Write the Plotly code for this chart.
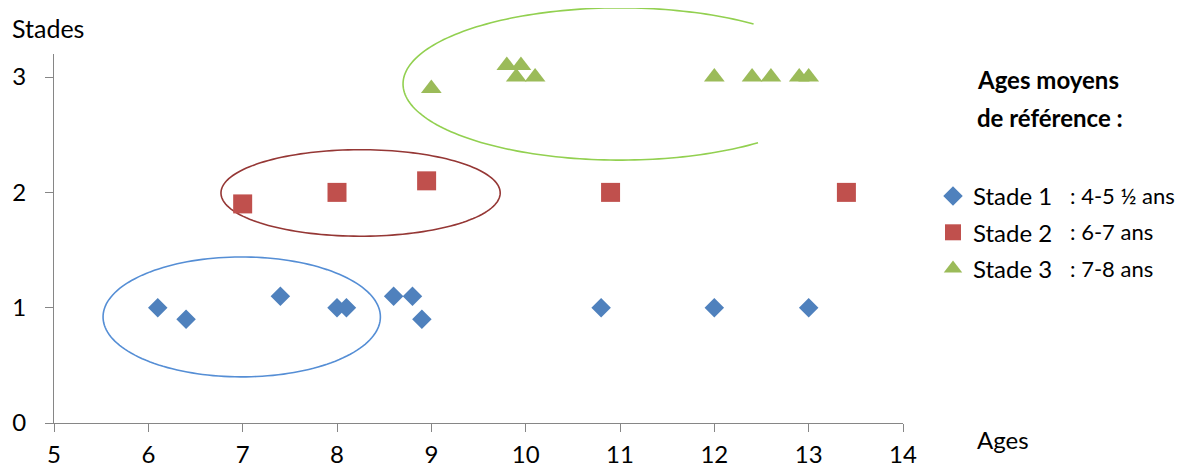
import numpy as np
import plotly.graph_objects as go

# ---- data ----
stade1_x = [6.1, 6.4, 7.4, 8.0, 8.1, 8.6, 8.8, 8.9, 10.8, 12.0, 13.0]
stade1_y = [1.0, 0.9, 1.1, 1.0, 1.0, 1.1, 1.1, 0.9, 1.0, 1.0, 1.0]
stade2_x = [7.0, 8.0, 8.95, 10.9, 13.4]
stade2_y = [1.9, 2.0, 2.1, 2.0, 2.0]
stade3_x = [9.0, 9.8, 9.95, 9.9, 10.1, 12.0, 12.4, 12.6, 12.9, 13.0]
stade3_y = [2.9, 3.1, 3.1, 3.0, 3.0, 3.0, 3.0, 3.0, 3.0, 3.0]
series_names = ["Stade 1", "Stade 2", "Stade 3"]
ref_ages = [": 4-5 ½ ans", ": 6-7 ans", ": 7-8 ans"]
x_ticks = [5, 6, 7, 8, 9, 10, 11, 12, 13, 14]
y_ticks = [0, 1, 2, 3]

X_RANGE = [5, 14]
Y_RANGE = [0, 3.2]
FONT = "Lato"
FS = 24

fig = go.Figure()
fig.add_trace(go.Scatter(x=stade1_x, y=stade1_y, mode="markers", name=series_names[0],
                         legendgroup="g1",
                         marker=dict(symbol="diamond", size=15, color="#4F81BD")))
fig.add_trace(go.Scatter(x=stade2_x, y=stade2_y, mode="markers", name=series_names[1],
                         legendgroup="g2",
                         marker=dict(symbol="square", size=19, color="#C0504D")))
fig.add_trace(go.Scatter(x=stade3_x, y=stade3_y, mode="markers", name=series_names[2],
                         legendgroup="g3",
                         marker=dict(symbol="triangle-up", size=18, color="#9BBB59")))


def to_paper(x, y):
    return ((x - X_RANGE[0]) / (X_RANGE[1] - X_RANGE[0]),
            (y - Y_RANGE[0]) / (Y_RANGE[1] - Y_RANGE[0]))


def ellipse_path(cx, cy, rx, ry, a0, a1, n=160):
    th = np.radians(np.linspace(a0, a1, n))
    px, py = to_paper(cx + rx * np.cos(th), cy + ry * np.sin(th))
    return "M " + " L ".join(f"{a:.5f},{b:.5f}" for a, b in zip(px, py))


# ellipses (annotation shapes, drawn in paper space so they are not clipped)
fig.add_shape(type="path", xref="paper", yref="paper",
              path=ellipse_path(6.99, 0.92, 1.47, 0.52, 0, 360) + " Z",
              line=dict(color="#558ED5", width=1.6), layer="below")
fig.add_shape(type="path", xref="paper", yref="paper",
              path=ellipse_path(8.25, 1.995, 1.48, 0.375, 0, 360) + " Z",
              line=dict(color="#953735", width=1.6), layer="below")
fig.add_shape(type="path", xref="paper", yref="paper",
              path=ellipse_path(11.0, 2.94, 2.30, 0.66, 52, 309.5),
              line=dict(color="#92D050", width=1.6), layer="below")

# page has an 8px body margin: positions below are in reference pixels
W, L = 849, 54
H, B = 369, 423
annots = [
    dict(text="Stades", x=(10 - L) / W, y=(B - 28) / H, xanchor="left", yanchor="middle",
         font=dict(size=25)),
    dict(text="Ages", x=(975 - L) / W, y=(B - 440) / H, xanchor="left", yanchor="middle"),
    dict(text="<b>Ages moyens</b>", x=(975 - L) / W, y=(B - 79) / H, xanchor="left",
         yanchor="middle", font=dict(size=24)),
    dict(text="<b>de référence :</b>", x=(975 - L) / W, y=(B - 117) / H, xanchor="left",
         yanchor="middle", font=dict(size=24)),
]
for i, t in enumerate(ref_ages):
    py = [195, 232, 268][i]
    annots.append(dict(text=t, x=(1068 - L) / W, y=(B - py) / H,
                       xanchor="left", yanchor="middle", font=dict(size=22)))
for a in annots:
    a.setdefault("font", dict(size=FS))
    a["font"].setdefault("family", FONT)
    a["font"].setdefault("color", "black")
    fig.add_annotation(xref="paper", yref="paper", showarrow=False, **a)

axis_common = dict(showgrid=False, zeroline=False, showline=True, linecolor="#868686",
                   linewidth=1.3, ticks="outside", ticklen=8, tickcolor="#868686",
                   tickwidth=1.3, automargin=False,
                   tickfont=dict(family=FONT, size=FS, color="black"))
fig.update_xaxes(range=X_RANGE, tickvals=x_ticks, ticklabelstandoff=2, **axis_common)
fig.update_yaxes(range=Y_RANGE, tickvals=y_ticks, ticklabelstandoff=14, **axis_common)

fig.update_layout(
    width=1179, height=460,
    margin=dict(l=46, r=284, t=46, b=45),
    plot_bgcolor="white", paper_bgcolor="white",
    font=dict(family=FONT, size=FS, color="black"),
    showlegend=True,
    legend=dict(x=(933 - L) / W, y=(B - 174) / H, xanchor="left", yanchor="top",
                font=dict(family=FONT, size=FS, color="black"),
                tracegroupgap=2, traceorder="grouped", bgcolor="rgba(0,0,0,0)",
                itemclick=False),
)
fig.write_html("out.html")
